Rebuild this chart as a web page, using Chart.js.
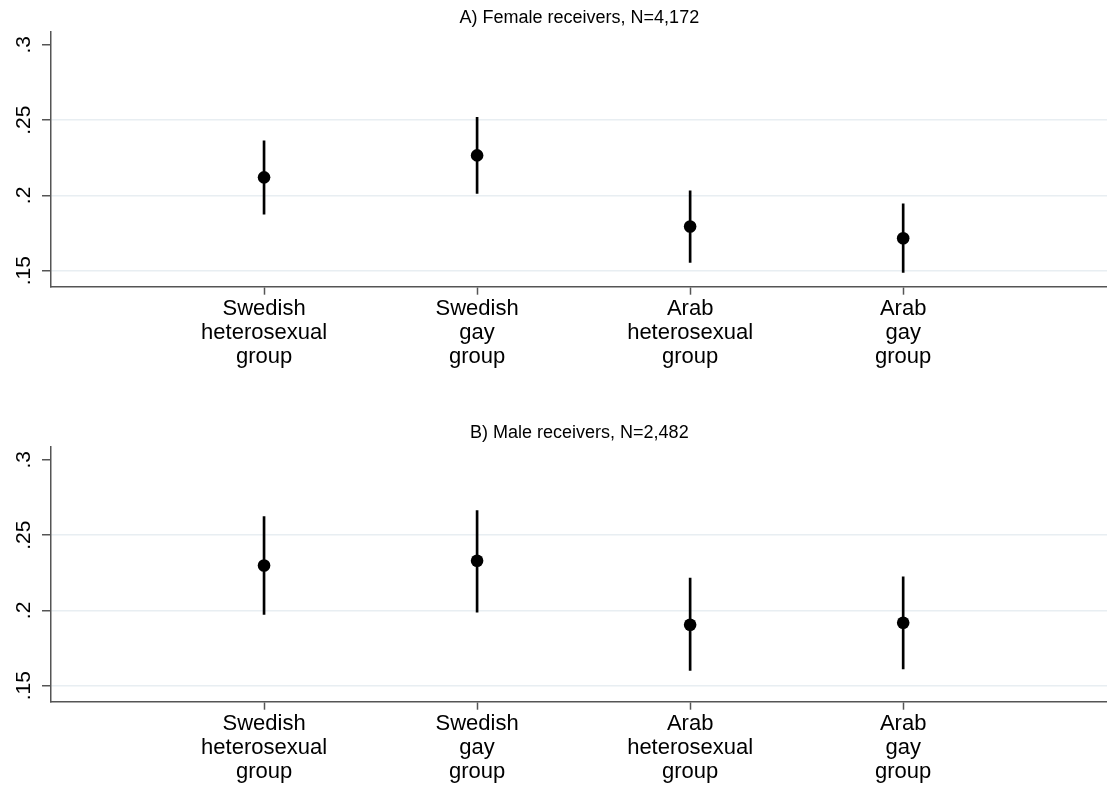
<!DOCTYPE html>
<html>
<head>
<meta charset="utf-8">
<script src="https://cdn.jsdelivr.net/npm/chart.js@4"></script>
<style>
  body { margin: 0; background: #fff; overflow: hidden; }
  .panel { position: absolute; left: 0; width: 1107px; height: 371px; overflow: hidden; }
</style>
</head>
<body>
<!-- canvas is a few px wider than the window: Chart.js keeps room for the point radius on the right -->
<div class="panel" style="top:0"><canvas id="canvas1" width="1114" height="371"></canvas></div>
<div class="panel" style="top:415px"><canvas id="canvas2" width="1114" height="371"></canvas></div>
<script>
// data
var groups = [
    ['Swedish', 'heterosexual', 'group'],
    ['Swedish', 'gay', 'group'],
    ['Arab', 'heterosexual', 'group'],
    ['Arab', 'gay', 'group']
];
var groupPos = [1, 2, 3, 4];
var yTicks = [0.15, 0.2, 0.25, 0.3];

var femaleEst = [0.212, 0.2266, 0.1794, 0.1716];
var femaleLo = [0.1876, 0.2013, 0.1555, 0.1489];
var femaleHi = [0.2363, 0.2518, 0.2031, 0.1944];

var maleEst = [0.2298, 0.233, 0.1905, 0.1918];
var maleLo = [0.1973, 0.1989, 0.1602, 0.1611];
var maleHi = [0.2623, 0.2663, 0.2215, 0.2224];

var FONT = "'Liberation Sans', Arial, sans-serif";
var AXIS = '#555';

function makePanel(id, title, est, lo, hi) {
    var ctx = document.getElementById(id).getContext('2d');
    return new Chart(ctx, {
        type: 'scatter',
        data: {
            datasets: [{
                type: 'scatter',
                data: groupPos.map((x, i) => ({ x: x, y: est[i] })),
                pointRadius: 6.3,
                pointBackgroundColor: '#000',
                pointBorderWidth: 0
            }, {
                // confidence intervals as thin floating bars
                type: 'bar',
                data: groupPos.map((x, i) => ({ x: x, y: [lo[i], hi[i]] })),
                barThickness: 2,
                backgroundColor: '#000',
                borderWidth: 0,
                borderSkipped: false
            }]
        },
        options: {
            responsive: false,
            animation: false,
            devicePixelRatio: 1,
            layout: { padding: 0 },
            plugins: {
                legend: { display: false },
                tooltip: { enabled: false },
                title: {
                    display: true,
                    text: title,
                    fullSize: false,
                    color: '#000',
                    font: { family: FONT, size: 18, weight: 'normal', lineHeight: 1.2 },
                    padding: { top: 7, bottom: 3 }
                }
            },
            scales: {
                x: {
                    type: 'linear',
                    min: 0,
                    max: 4.96,
                    offset: false,
                    afterBuildTicks: (s) => { s.ticks = groupPos.map(v => ({ value: v })); },
                    afterFit: (s) => { s.height = 84.3; },
                    grid: { offset: false, drawOnChartArea: false, drawTicks: true, tickLength: 8, tickColor: AXIS, tickWidth: 1.5 },
                    border: { color: AXIS, width: 1.5 },
                    ticks: {
                        padding: 2,
                        color: '#000',
                        maxRotation: 0,
                        autoSkip: false,
                        font: { family: FONT, size: 22, lineHeight: 1.1 },
                        callback: (v) => groups[v - 1]
                    }
                },
                y: {
                    min: 0.1394,
                    max: 0.3088,
                    afterBuildTicks: (s) => { s.ticks = yTicks.map(v => ({ value: v })); },
                    afterFit: (s) => { s.width = 51; },
                    grid: {
                        color: (c) => c.tick && c.tick.value === 0.3 ? 'rgba(0,0,0,0)' : '#e8eef2',
                        lineWidth: 1.5,
                        tickLength: 9,
                        tickColor: AXIS,
                        tickWidth: 1.5
                    },
                    border: { color: AXIS, width: 1.5 },
                    ticks: {
                        padding: 3,
                        color: '#000',
                        minRotation: 90,
                        maxRotation: 90,
                        crossAlign: 'center',
                        font: { family: FONT, size: 21 },
                        callback: (v) => String(v).replace('0.', '.')
                    }
                }
            }
        }
    });
}

var chart1 = makePanel('canvas1', 'A) Female receivers, N=4,172', femaleEst, femaleLo, femaleHi);
var chart2 = makePanel('canvas2', 'B) Male receivers, N=2,482', maleEst, maleLo, maleHi);
</script>
</body>
</html>
